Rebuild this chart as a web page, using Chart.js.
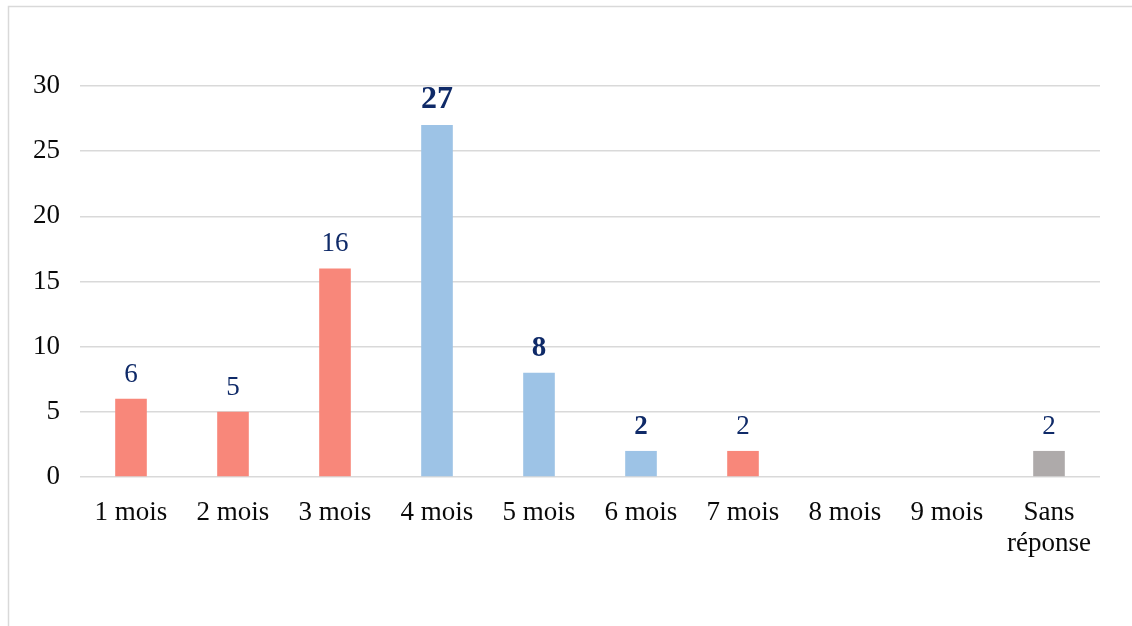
<!DOCTYPE html>
<html>
<head>
<meta charset="utf-8">
<script src="https://cdn.jsdelivr.net/npm/chart.js@4.4.1/dist/chart.umd.min.js"></script>
<style>
  html, body { margin: 0; padding: 0; background: #fff; }
  #wrap { position: relative; width: 1132px; height: 626px; }
</style>
</head>
<body>
<div id="wrap"><canvas id="c" width="1132" height="626"></canvas></div>
<script>
const categories = ["1 mois", "2 mois", "3 mois", "4 mois", "5 mois", "6 mois", "7 mois", "8 mois", "9 mois", ["Sans", "réponse"]];
const values = [6, 5, 16, 27, 8, 2, 2, 0, 0, 2];
const yTicks = [0, 5, 10, 15, 20, 25, 30];

const RED = "#F8877A", BLUE = "#9DC3E6", GRAY = "#AEAAAA";
const barColors = [RED, RED, RED, BLUE, BLUE, BLUE, RED, RED, RED, GRAY];
const labelBold = [false, false, false, true, true, true, false, false, false, false];
const labelSize = [27, 27, 27, 32, 29, 27, 27, 27, 27, 27];
const FONT = "'Liberation Serif', 'Times New Roman', serif";

const frame = {
  id: "frame",
  beforeDraw(chart) {
    const ctx = chart.ctx;
    ctx.save();
    ctx.strokeStyle = "#d9d9d9";
    ctx.lineWidth = 1.5;
    ctx.beginPath();
    ctx.moveTo(8.5, 626);
    ctx.lineTo(8.5, 6.5);
    ctx.lineTo(1132, 6.5);
    ctx.stroke();
    ctx.restore();
  }
};

const valueLabels = {
  id: "valueLabels",
  afterDatasetsDraw(chart) {
    const ctx = chart.ctx;
    const meta = chart.getDatasetMeta(0);
    ctx.save();
    ctx.fillStyle = "#0F2A68";
    ctx.textAlign = "center";
    ctx.textBaseline = "alphabetic";
    meta.data.forEach((bar, i) => {
      const v = values[i];
      if (!v) return;
      ctx.font = (labelBold[i] ? "bold " : "") + labelSize[i] + "px " + FONT;
      ctx.fillText(String(v), bar.x, bar.y - 17);
    });
    ctx.restore();
  }
};

new Chart(document.getElementById("c"), {
  type: "bar",
  data: {
    labels: categories,
    datasets: [{
      data: values,
      backgroundColor: barColors,
      borderWidth: 0,
      barPercentage: 0.62,
      categoryPercentage: 0.5
    }]
  },
  options: {
    responsive: false,
    animation: false,
    devicePixelRatio: 1,
    layout: { padding: { top: 86, right: 32, left: 0, bottom: 0 } },
    plugins: { legend: { display: false }, tooltip: { enabled: false } },
    scales: {
      x: {
        grid: { display: false, drawTicks: false },
        border: { display: false },
        ticks: {
          color: "#0a0a0a",
          font: { family: FONT, size: 27, lineHeight: 1.15 },
          padding: 20,
          maxRotation: 0,
          autoSkip: false
        },
        afterFit(s) { s.height = 149; }
      },
      y: {
        min: 0,
        max: 30,
        afterBuildTicks(s) { s.ticks = yTicks.map(v => ({ value: v })); },
        grid: { color: "#d9d9d9", lineWidth: 1.5, drawTicks: false },
        border: { display: false },
        ticks: {
          color: "#0a0a0a",
          font: { family: FONT, size: 27 },
          padding: 20
        },
        afterFit(s) { s.width = 80; }
      }
    }
  },
  plugins: [frame, valueLabels]
});
</script>
</body>
</html>
